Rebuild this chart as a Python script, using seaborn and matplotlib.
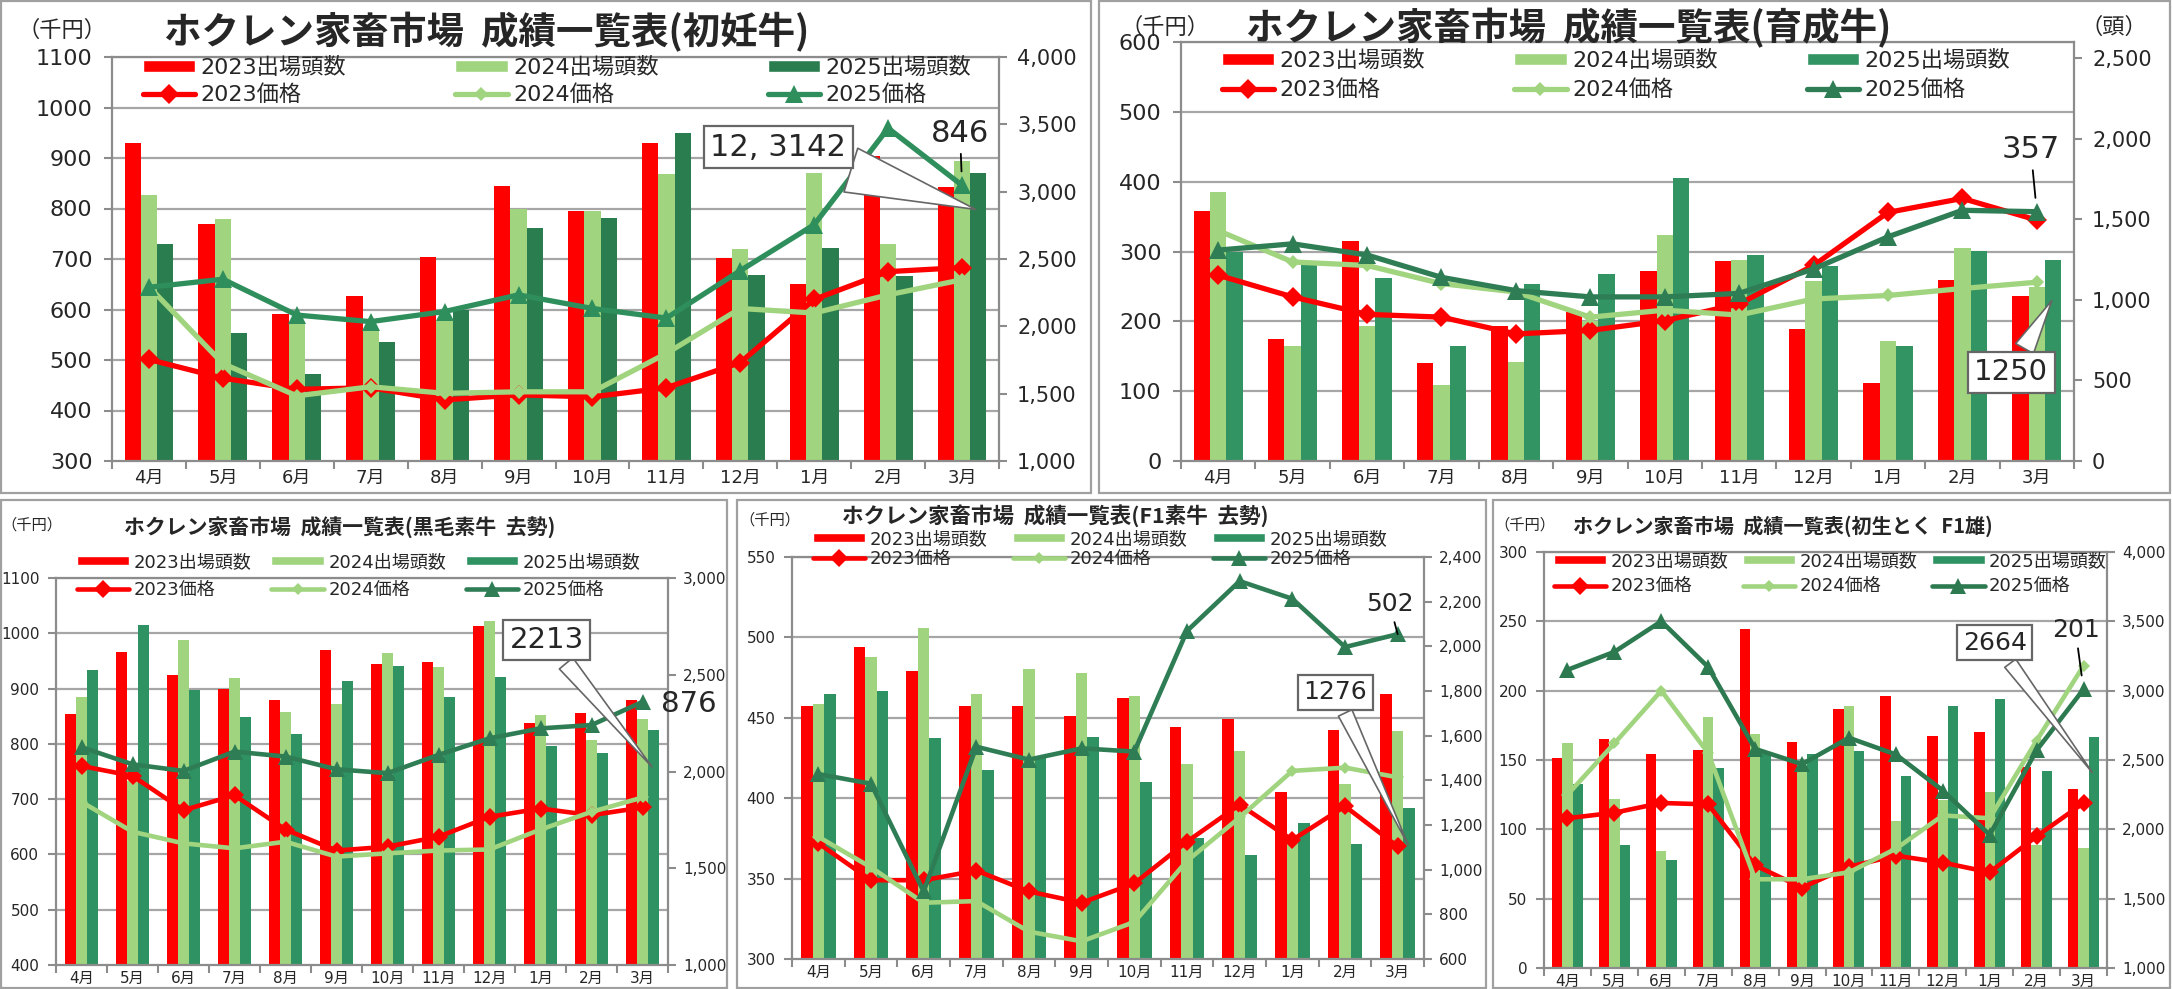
import matplotlib
matplotlib.use("Agg")
import matplotlib.pyplot as plt
from matplotlib.patches import Patch, Rectangle
from matplotlib.lines import Line2D
from matplotlib.ticker import FuncFormatter
import numpy as np
import pandas as pd
import seaborn as sns

sns.set_style("white")
plt.rcParams['font.family'] = ['DejaVu Sans', 'Noto Sans CJK JP']

### data ###
months = ['4月', '5月', '6月', '7月', '8月', '9月', '10月', '11月', '12月', '1月', '2月', '3月']
years = ['2023', '2024', '2025']

# 初妊牛 : heads (right axis) / price in 千円 (left axis)
heads23_1 = [3359, 2760, 2089, 2223, 2515, 3042, 2856, 3359, 2510, 2312, 3265, 3032]
heads24_1 = [2975, 2797, 2035, 1980, 2040, 2869, 2856, 3133, 2574, 3136, 2609, 3228]
heads25_1 = [2609, 1950, 1644, 1884, 2120, 2728, 2802, 3435, 2379, 2579, 2374, 3142]
price23_1 = [501, 464, 442, 445, 421, 431, 427, 445, 495, 620, 675, 683]
price24_1 = [645, 493, 429, 447, 434, 437, 437, 513, 602, 593, 629, 659]
price25_1 = [644, 660, 589, 576, 596, 629, 602, 583, 677, 768, 959, 846]

# 育成牛
heads23_2 = [1552, 756, 1364, 609, 835, 923, 1180, 1244, 820, 483, 1124, 1021]
heads24_2 = [1667, 711, 835, 473, 616, 870, 1405, 1250, 1120, 746, 1320, 1080]
heads25_2 = [1300, 1223, 1138, 711, 1101, 1161, 1756, 1281, 1210, 711, 1304, 1250]
price23_2 = [266, 235, 210, 206, 182, 187, 201, 225, 280, 356, 376, 345]
price24_2 = [330, 285, 280, 254, 242, 206, 216, 209, 232, 237, 247, 256]
price25_2 = [302, 311, 295, 263, 244, 235, 235, 240, 275, 321, 359, 357]

# 黒毛素牛 去勢
heads23_3 = [2298, 2619, 2500, 2426, 2367, 2627, 2555, 2567, 2752, 2250, 2302, 2372]
heads24_3 = [2384, 1950, 2679, 2483, 2307, 2348, 2610, 2540, 2776, 2291, 2164, 2271]
heads25_3 = [2527, 2755, 2421, 2281, 2195, 2467, 2546, 2384, 2490, 2133, 2096, 2213]
price23_3 = [760, 742, 680, 707, 645, 607, 614, 632, 668, 683, 671, 685]
price24_3 = [695, 641, 620, 611, 623, 596, 602, 607, 609, 645, 677, 703]
price25_3 = [794, 763, 751, 786, 777, 754, 747, 780, 810, 828, 834, 876]

# F1素牛 去勢
heads23_4 = [1731, 1998, 1888, 1733, 1733, 1687, 1770, 1639, 1673, 1348, 1624, 1785]
heads24_4 = [1742, 1954, 2084, 1787, 1900, 1882, 1776, 1475, 1533, 1140, 1385, 1622]
heads25_4 = [1787, 1800, 1588, 1448, 1500, 1594, 1393, 1143, 1064, 1210, 1113, 1276]
price23_4 = [372, 349, 349, 355, 342, 335, 347, 373, 396, 374, 395, 370]
price24_4 = [376, 357, 335, 336, 317, 311, 323, 361, 388, 417, 419, 413]
price25_4 = [415, 409, 342, 432, 424, 431, 429, 504, 535, 524, 494, 502]

# 初生とく F1雄
heads23_5 = [2518, 2648, 2540, 2569, 3445, 2631, 2865, 2961, 2670, 2699, 2450, 2294]
heads24_5 = [2619, 2220, 1847, 2807, 2691, 2450, 2891, 2059, 2210, 2266, 1888, 1864]
heads25_5 = [2330, 1890, 1780, 2439, 2550, 2540, 2564, 2386, 2891, 2942, 2424, 2664]
price23_5 = [108, 112, 119, 118, 74, 58, 73, 81, 76, 69, 95, 119]
price24_5 = [125, 162, 200, 155, 64, 64, 69, 86, 110, 108, 164, 218]
price25_5 = [215, 228, 250, 217, 158, 147, 166, 154, 128, 96, 157, 201]

RED = '#FF0000'
LIGHT = '#A0D47E'
GRID = '#A6A6A6'
SPINE = '#8C8C8C'
BOXEC = '#666666'

W, H = 2172, 989
fig = plt.figure(figsize=(W / 100, H / 100), dpi=100)
fig.patch.set_facecolor('white')


def px_rect(x0, y0, x1, y1):
    return [x0 / W, 1 - y1 / H, (x1 - x0) / W, (y1 - y0) / H]


def frame(x0, y0, x1, y1):
    fig.add_artist(Rectangle((x0 / W, 1 - y1 / H), (x1 - x0) / W, (y1 - y0) / H,
                             transform=fig.transFigure, fill=False, ec='#A0A0A0', lw=1.6))


def draw_panel(p):
    ax_bar = fig.add_axes(px_rect(*p['plot']))
    ax_line = ax_bar.twinx()

    df = pd.DataFrame({
        'month': months * 3,
        'year': [y for y in years for _ in months],
        'heads': p['heads'][0] + p['heads'][1] + p['heads'][2],
    })
    sns.barplot(data=df, x='month', y='heads', hue='year', order=months, hue_order=years,
                palette=[RED, LIGHT, p['dbar']], width=0.66, saturation=1, linewidth=0,
                errorbar=None, legend=False, ax=ax_bar)
    ax_bar.set_xlabel('')
    ax_bar.set_ylabel('')

    pos = np.arange(len(months))
    lw, ms = p['lw'], p['ms']
    sns.lineplot(x=pos, y=p['price'][0], ax=ax_line, color=RED, linewidth=lw,
                 marker='D', markersize=ms[0], markeredgewidth=0)
    sns.lineplot(x=pos, y=p['price'][1], ax=ax_line, color=LIGHT, linewidth=lw,
                 marker='D', markersize=ms[1], markeredgewidth=0)
    sns.lineplot(x=pos, y=p['price'][2], ax=ax_line, color=p['dline'], linewidth=lw,
                 marker='^', markersize=ms[2], markeredgewidth=0)

    # axes: bars on the right scale, prices on the left scale
    lo, hi, st = p['left']
    ax_line.set_ylim(lo, hi)
    lticks = np.arange(lo, hi + st / 2, st)
    ax_line.set_yticks(lticks)
    rlo, rhi, rst, rtop = p['right']
    ax_bar.set_ylim(rlo, rhi)
    ax_bar.set_yticks(np.arange(rlo, rtop + rst / 2, rst))
    ax_bar.yaxis.set_major_formatter(FuncFormatter(lambda v, _: f'{int(v):,}'))
    ax_bar.set_xlim(-0.5, len(months) - 0.5)

    # gridlines follow the left (price) scale, drawn under the bars
    for v in lticks[1:]:
        ax_bar.add_artist(Line2D([0, 1], [v, v], transform=ax_line.get_yaxis_transform(),
                                 color=GRID, lw=1.6, zorder=0.5))

    for s in ax_bar.spines.values():
        s.set_color(SPINE)
        s.set_linewidth(1.6)
    for s in ax_line.spines.values():
        s.set_visible(False)

    fs_l, fs_r, fs_x = p['tick_fs']
    ax_bar.yaxis.tick_right()
    ax_line.yaxis.tick_left()
    ax_bar.tick_params(axis='y', direction='out', length=6, width=1.5, color=SPINE,
                       labelsize=fs_r, pad=p['pad'][1])
    ax_line.tick_params(axis='y', direction='out', length=6, width=1.5, color=SPINE,
                        labelsize=fs_l, pad=p['pad'][0])
    ax_bar.set_xticks(pos)
    ax_bar.set_xticklabels(months)
    ax_bar.set_xticks(np.arange(-0.5, len(months), 1), minor=True)
    ax_bar.tick_params(axis='x', which='major', length=0, labelsize=fs_x, pad=p['pad'][2])
    ax_bar.tick_params(axis='x', which='minor', bottom=True, direction='out', length=6,
                       width=1.5, color=SPINE)

    # legend
    fs = p['leg_fs']
    handles = [Patch(fc=RED), Line2D([], [], color=RED, lw=lw, marker='D', ms=ms[0], mew=0),
               Patch(fc=LIGHT), Line2D([], [], color=LIGHT, lw=lw, marker='D', ms=ms[1], mew=0),
               Patch(fc=p['dbar']), Line2D([], [], color=p['dline'], lw=lw, marker='^', ms=ms[2], mew=0)]
    labels = ['2023出場頭数', '2023価格', '2024出場頭数', '2024価格', '2025出場頭数', '2025価格']
    lx, ly = p['leg_xy']
    ax_line.legend(handles, labels, ncol=3, loc='upper left', frameon=False, fontsize=fs,
                   bbox_to_anchor=(lx / W, 1 - ly / H), bbox_transform=fig.transFigure,
                   borderpad=0, borderaxespad=0, handlelength=p['leg_hl'], handleheight=0.42,
                   handletextpad=0.25, columnspacing=p['leg_cs'], labelspacing=p['leg_ls'])

    # titles
    tx, ty, tfs = p['title']
    fig.text(tx / W, 1 - ty / H, p['title_text'], fontsize=tfs, fontweight='bold',
             ha='left', va='center', family=['Noto Sans CJK JP', 'DejaVu Sans'])
    ux, uy, ufs = p['unit']
    fig.text(ux / W, 1 - uy / H, '（千円）', fontsize=ufs, ha='center', va='center',
             family=['Noto Sans CJK JP', 'DejaVu Sans'])

    # value callouts at 3月
    last = len(months) - 1
    txt, off, fsz, leader = p['price_label']
    ax_line.annotate(txt, xy=(last, p['price'][2][last]), xytext=off, textcoords='offset pixels',
                     ha='center', va='center', fontsize=fsz, annotation_clip=False, zorder=10,
                     arrowprops=dict(arrowstyle='-', color='black', lw=1.3, shrinkA=2, shrinkB=10)
                     if leader else None)
    txt, off, fsz, tw, drop = p['head_label']
    ax_line.annotate(txt, xy=(last + 0.22, p['heads'][2][last] - drop), xycoords=ax_bar.transData,
                     xytext=off, textcoords='offset pixels', ha='center', va='center', fontsize=fsz,
                     annotation_clip=False, zorder=11,
                     bbox=dict(boxstyle='square,pad=0.22', fc='white', ec=BOXEC, lw=1.6),
                     arrowprops=dict(arrowstyle=f'wedge,tail_width={tw},shrink_factor=0.5',
                                     fc='white', ec=BOXEC, lw=1.2))
    return ax_bar, ax_line


panels = [
    dict(plot=(112, 57, 999, 461), heads=[heads23_1, heads24_1, heads25_1],
         price=[price23_1, price24_1, price25_1], dbar='#2A7D4F', dline='#2E8F5C',
         left=(300, 1100, 100), right=(1000, 4000, 500, 4000), lw=3.8, ms=(10, 7, 13),
         tick_fs=(16, 15, 13), pad=(8, 7, 6), leg_fs=16, leg_xy=(143, 57), leg_hl=2.35,
         leg_cs=4.9, leg_ls=0.25, title=(164, 32, 27), title_text='ホクレン家畜市場  成績一覧表(初妊牛)',
         unit=(62, 30, 16), price_label=('846', (-2, 52), 22, True),
         head_label=('12, 3142', (-200, 63), 22, 1.5, 280)),
    dict(plot=(1181, 42, 2074, 461), heads=[heads23_2, heads24_2, heads25_2],
         price=[price23_2, price24_2, price25_2], dbar='#329463', dline='#2E7D55',
         left=(0, 600, 100), right=(0, 2600, 500, 2500), lw=3.8, ms=(10, 7, 13),
         tick_fs=(16, 15, 13), pad=(8, 7, 6), leg_fs=16, leg_xy=(1222, 50), leg_hl=2.35,
         leg_cs=4.0, leg_ls=0.35, title=(1246, 28, 27), title_text='ホクレン家畜市場  成績一覧表(育成牛)',
         unit=(1165, 27, 16), price_label=('357', (-6, 62), 22, True),
         head_label=('1250', (-42, -74), 21, 0.7, 240)),
    dict(plot=(56, 578, 668, 965), heads=[heads23_3, heads24_3, heads25_3],
         price=[price23_3, price24_3, price25_3], dbar='#2F9262', dline='#2E7D55',
         left=(400, 1100, 100), right=(1000, 3000, 500, 3000), lw=3.3, ms=(9, 6, 12),
         tick_fs=(11, 11, 11), pad=(6, 5, 4), leg_fs=13, leg_xy=(77, 553), leg_hl=2.9,
         leg_cs=1.1, leg_ls=0.55, title=(124, 528, 15), title_text='ホクレン家畜市場  成績一覧表(黒毛素牛  去勢)',
         unit=(32, 525, 11), price_label=('876', (46, -2), 21, False),
         head_label=('2213', (-107, 129), 21, 0.6, 200)),
    dict(plot=(792, 557, 1424, 959), heads=[heads23_4, heads24_4, heads25_4],
         price=[price23_4, price24_4, price25_4], dbar='#2F9262', dline='#2E7D55',
         left=(300, 550, 50), right=(600, 2400, 200, 2400), lw=3.3, ms=(9, 6, 12),
         tick_fs=(11, 11, 11), pad=(6, 5, 4), leg_fs=13, leg_xy=(813, 530), leg_hl=2.9,
         leg_cs=1.4, leg_ls=0.1, title=(842, 516, 15.5), title_text='ホクレン家畜市場  成績一覧表(F1素牛  去勢)',
         unit=(770, 520, 11), price_label=('502', (-8, 30), 18, True),
         head_label=('1276', (-74, 155), 18, 0.6, 175)),
    dict(plot=(1544, 552, 2107, 968), heads=[heads23_5, heads24_5, heads25_5],
         price=[price23_5, price24_5, price25_5], dbar='#2F9262', dline='#2D7A50',
         left=(0, 300, 50), right=(1000, 4000, 500, 4000), lw=3.3, ms=(9, 6, 12),
         tick_fs=(11, 11, 11), pad=(6, 5, 4), leg_fs=13, leg_xy=(1554, 552), leg_hl=2.9,
         leg_cs=0.8, leg_ls=0.4, title=(1573, 526, 14.5), title_text='ホクレン家畜市場  成績一覧表(初生とく  F1雄)',
         unit=(1525, 525, 11), price_label=('201', (-8, 59), 18, True),
         head_label=('2664', (-99, 132), 18, 0.55, 270)),
]

frame(1, 1, 1091, 493)
frame(1099, 1, 2170, 493)
frame(1, 500, 727, 988)
frame(737, 500, 1486, 988)
frame(1493, 500, 2170, 988)

axes = [draw_panel(p) for p in panels]
fig.text(2114 / W, 1 - 27 / H, '（頭）', fontsize=16, ha='center', va='center',
         family=['Noto Sans CJK JP', 'DejaVu Sans'])

fig.savefig('out.png', dpi=100, facecolor='white')
